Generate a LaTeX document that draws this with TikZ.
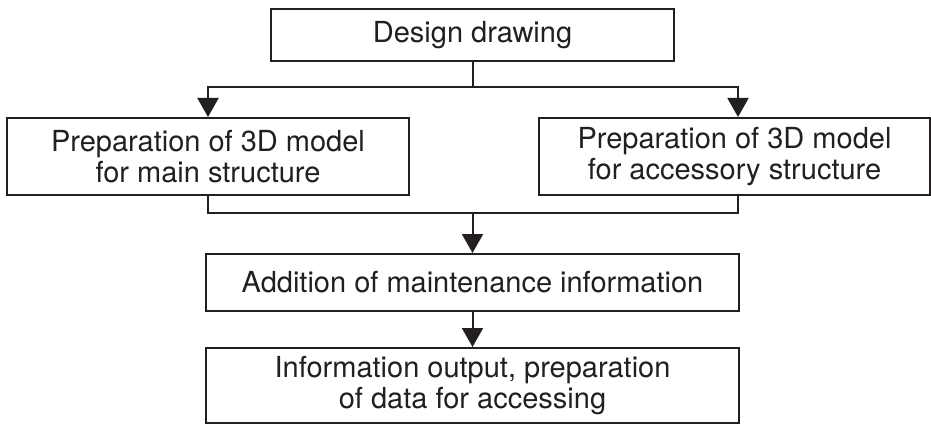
\documentclass[tikz,border=0pt]{standalone}
\usepackage{fontspec}
\setmainfont{TeX Gyre Heros}
\usetikzlibrary{arrows.meta}
\definecolor{ink}{HTML}{231F20}
\begin{document}
\begin{tikzpicture}[x=1pt,y=1pt,
  box/.style={draw=ink, text=ink, line width=2pt, fill=white, inner sep=0pt,
    font=\fontsize{29}{30.5}\selectfont, align=center},
  link/.style={draw=ink, line width=2pt},
  flow/.style={link, -{Triangle[width=21pt,length=19pt]}}]
\useasboundingbox (0,0) rectangle (931,-425);

% process boxes
\node[box, minimum width=403pt, minimum height=52pt] (design) at (472.5,-35) {Design drawing};
\node[box, minimum width=402pt, minimum height=77pt] (main) at (208,-156.5)
  {Preparation of 3D model\\for main structure};
\node[box, minimum width=391pt, minimum height=77pt] (acc) at (734.5,-156.5)
  {Preparation of 3D model\\for accessory structure};
\node[box, minimum width=533pt, minimum height=57pt] (maint) at (472.5,-282.5)
  {Addition of maintenance information};
\node[box, minimum width=533pt, minimum height=75pt] (output) at (472.5,-385.5)
  {Information output, preparation\\of data for accessing};

% branching and merging connectors
\coordinate (split) at (472.5,-87);
\coordinate (merge) at (472.5,-213);
\draw[link] (design.south) -- (split);
\draw[flow] (split) -| (main.north);
\draw[flow] (split) -| ([xshift=3.5pt]acc.north);
\draw[link] (main.south) |- (merge);
\draw[link] ([xshift=3.5pt]acc.south) |- (merge);
\draw[flow] (merge) -- (maint.north);
\draw[flow] (maint.south) -- (output.north);
\end{tikzpicture}
\end{document}
